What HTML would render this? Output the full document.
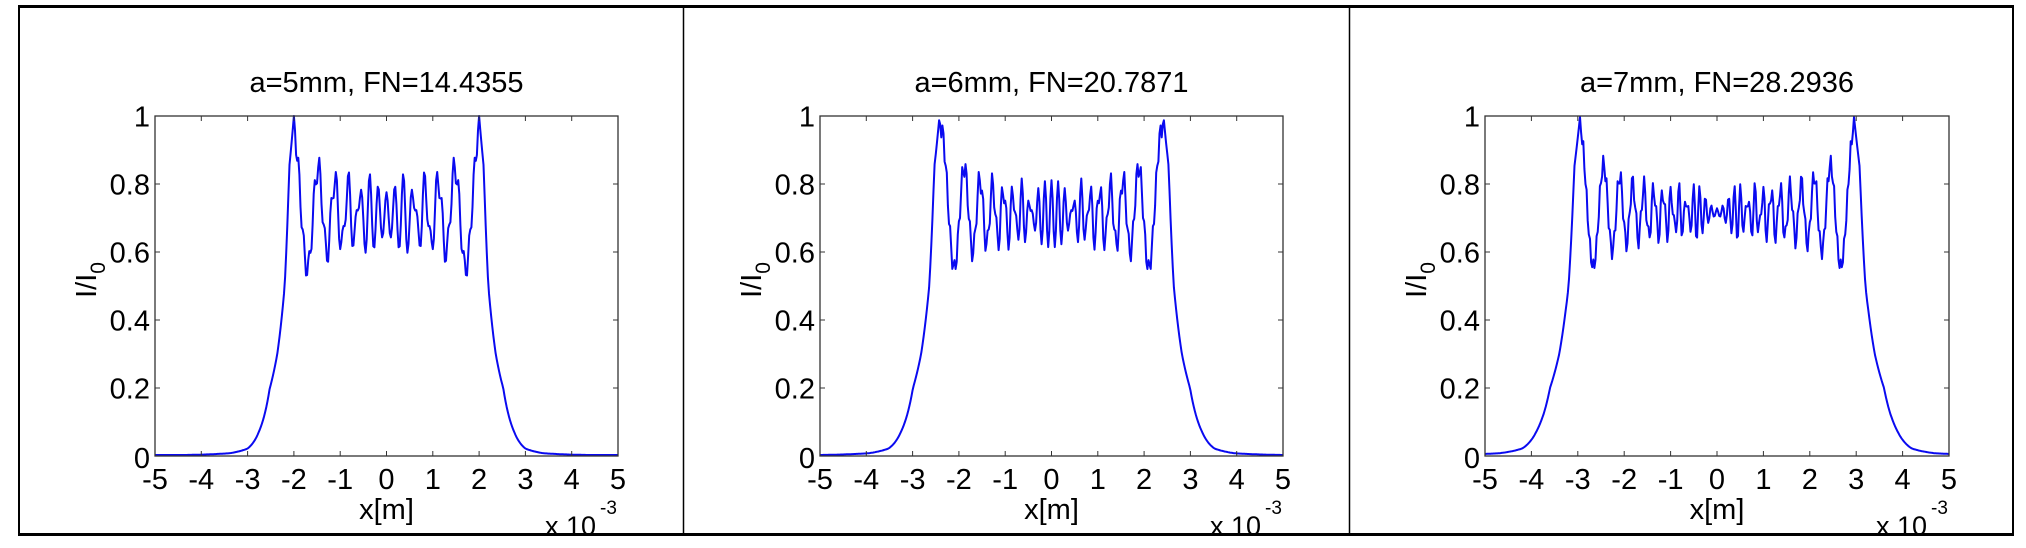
<!DOCTYPE html>
<html><head><meta charset="utf-8"><style>
html,body{margin:0;padding:0;background:#fff;}
svg{display:block;}
text{font-family:"Liberation Sans",Arial,sans-serif;fill:#000;}
</style></head><body>
<svg id="s" width="2026" height="548" viewBox="0 0 2026 548" xmlns="http://www.w3.org/2000/svg">
<rect x="0" y="0" width="2026" height="548" fill="#fff"/>
<g id="g"></g>
<line x1="18" y1="6.5" x2="2014" y2="6.5" stroke="#000" stroke-width="3"/>
<line x1="18" y1="534.5" x2="2014" y2="534.5" stroke="#000" stroke-width="3"/>
<line x1="19" y1="5" x2="19" y2="536" stroke="#000" stroke-width="2"/>
<line x1="683.5" y1="5" x2="683.5" y2="536" stroke="#000" stroke-width="1.5"/>
<line x1="1349.5" y1="5" x2="1349.5" y2="536" stroke="#000" stroke-width="1.5"/>
<line x1="2013" y1="5" x2="2013" y2="536" stroke="#000" stroke-width="2"/>
</svg>
<script>
(function(){
var du=0.0005, U=40, n=Math.round(U/du);
var C=new Float64Array(n+1), S=new Float64Array(n+1);
for(var i=1;i<=n;i++){var t0=(i-1)*du,t1=i*du;
 C[i]=C[i-1]+0.5*du*(Math.cos(Math.PI*t0*t0/2)+Math.cos(Math.PI*t1*t1/2));
 S[i]=S[i-1]+0.5*du*(Math.sin(Math.PI*t0*t0/2)+Math.sin(Math.PI*t1*t1/2));}
function F(u){var s=u<0?-1:1,a=Math.abs(u);if(a>=U)a=U-du;var k=a/du,j=Math.floor(k),f=k-j;
 return [s*(C[j]+(C[j+1]-C[j])*f), s*(S[j]+(S[j+1]-S[j])*f)];}
function slit(x,w,N){var q=Math.sqrt(2*N);var u2=q*(1-x/w),u1=-q*(1+x/w);
 var a=F(u2),b=F(u1);var re=a[0]-b[0],im=a[1]-b[1];return (re*re+im*im)/2;}
// tail table: d/hw -> value (log-linear interpolation)
var TD=[0,0.5,1,1.8,2.6,3.8,5,7,10,14,40];
var TV=[1,0.85,0.5,0.3,0.2,0.07,0.022,0.008,0.004,0.002,0.001];
function tail(r){for(var i=1;i<TD.length;i++){if(r<=TD[i]){var f=(r-TD[i-1])/(TD[i]-TD[i-1]);
 return Math.exp(Math.log(TV[i-1])*(1-f)+Math.log(TV[i])*f);}}return 0.001;}
var panels=[
 {x0:155,x1:618,title:"a=5mm, FN=14.4355",N:14.4355,P:2.0,hw:0.2},
 {x0:820,x1:1283,title:"a=6mm, FN=20.7871",N:20.7871,P:2.42,hw:0.22},
 {x0:1485,x1:1949,title:"a=7mm, FN=28.2936",N:28.2936,P:2.95,hw:0.25}];
var y0=456,y1=116,h="";
panels.forEach(function(p){
 var W=p.x1-p.x0;
 function X(v){return p.x0+(v+5)/10*W;}
 function Y(v){return y0-(v)*(y0-y1);}
 var w=p.P/(1-1.22/Math.sqrt(2*p.N));
 var best=p.P,bv=0;for(var t=p.P-0.3;t<=p.P+0.3;t+=0.002){var v=slit(t,w,p.N);if(v>bv){bv=v;best=t;}}
 var sc=p.P/best;
 var pts=[],M=420;
 for(var i=0;i<=M;i++){var x=-5+10*i/M,ax=Math.abs(x),v;
  if(ax<=p.P){v=slit(x/sc,w,p.N)/bv;}
  else{v=tail((ax-p.P)/p.hw);}
  v=Math.min(1,Math.max(0.003,v));
  pts.push(X(x).toFixed(1)+","+Y(v).toFixed(1));}
 h+='<polyline points="'+pts.join(" ")+'" fill="none" stroke="#0a0af0" stroke-width="2" stroke-linejoin="round"/>';
 h+='<rect x="'+p.x0+'" y="'+y1+'" width="'+W+'" height="'+(y0-y1)+'" fill="none" stroke="#333" stroke-width="1.3"/>';
 for(var k=-5;k<=5;k++){var xx=X(k);
  h+='<line x1="'+xx+'" y1="'+y0+'" x2="'+xx+'" y2="'+(y0-5)+'" stroke="#333"/>';
  h+='<line x1="'+xx+'" y1="'+y1+'" x2="'+xx+'" y2="'+(y1+5)+'" stroke="#333"/>';
  h+='<text x="'+xx+'" y="489" font-size="29" text-anchor="middle">'+k+'</text>';}
 var yl=["0","0.2","0.4","0.6","0.8","1"];
 for(var k=0;k<=5;k++){var yy=Y(k*0.2);
  h+='<line x1="'+p.x0+'" y1="'+yy+'" x2="'+(p.x0+5)+'" y2="'+yy+'" stroke="#333"/>';
  h+='<line x1="'+p.x1+'" y1="'+yy+'" x2="'+(p.x1-5)+'" y2="'+yy+'" stroke="#333"/>';
  h+='<text x="'+(p.x0-5)+'" y="'+(yy+(k==0?12:10.5))+'" font-size="29" text-anchor="end">'+yl[k]+'</text>';}
 var cx=(p.x0+p.x1)/2;
 h+='<text x="'+cx+'" y="92" font-size="29" text-anchor="middle">'+p.title+'</text>';
 h+='<text x="'+cx+'" y="519" font-size="29" text-anchor="middle">x[m]</text>';
 h+='<text x="'+(p.x1-73)+'" y="535" font-size="27">x 10</text>';
 h+='<text x="'+(p.x1-18)+'" y="514" font-size="19">-3</text>';
 h+='<text transform="translate('+(p.x0-59)+',280) rotate(-90)" font-size="29" text-anchor="middle">I/I<tspan font-size="21" dy="9">0</tspan></text>';
});
document.getElementById("g").innerHTML=h;
})();
</script>
</body></html>
